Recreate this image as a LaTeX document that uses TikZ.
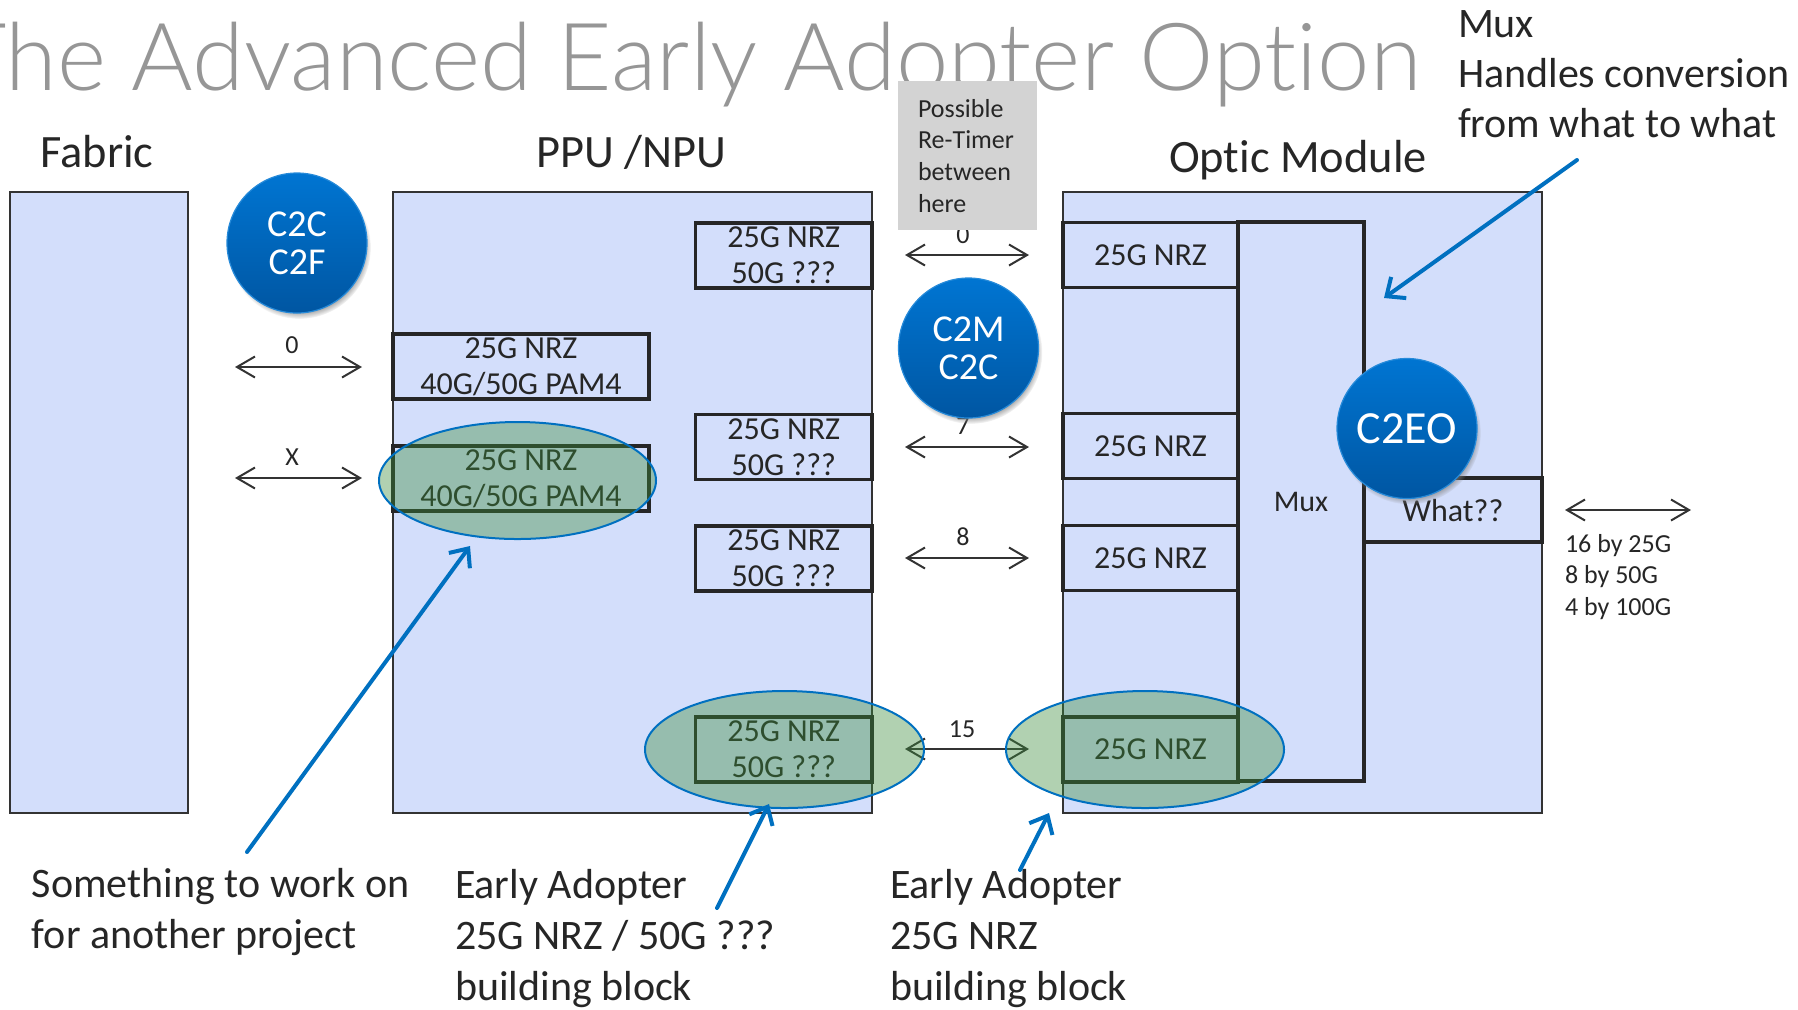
\documentclass[tikz,border=0pt]{standalone}
\usepackage{fontspec}
\setmainfont{Carlito}[Ligatures=NoCommon]
\newfontfamily\titlefont{Lato Light}[Ligatures=NoCommon]
\usetikzlibrary{arrows.meta,shapes.geometric,shadows}

\definecolor{boxfill}{RGB}{211,222,251}
\definecolor{ink}{RGB}{38,38,38}
\definecolor{edge}{RGB}{51,51,51}
\definecolor{ptr}{RGB}{0,112,192}
\definecolor{tgreen}{RGB}{60,140,60}
\definecolor{titlegray}{RGB}{150,150,150}
\definecolor{retimer}{RGB}{211,211,211}
\definecolor{ctop}{RGB}{0,117,210}
\definecolor{cbot}{RGB}{0,86,162}

\newcommand{\fsz}[2]{\fontsize{#1}{#2}\selectfont}
\newcommand{\lines}[1]{\begin{tabular}[t]{@{}l@{}}#1\end{tabular}}

\tikzset{
  every node/.style={inner sep=0pt, outer sep=0pt, text=ink},
  block/.style={draw=edge, line width=1pt, fill=boxfill, rectangle},
  lane/.style={draw=ink, line width=1.9pt, fill=boxfill, rectangle,
               minimum height=32.5pt, align=center, font=\fsz{16}{18}},
  muxcol/.style={draw=ink, line width=1.7pt, fill=boxfill, rectangle},
  header/.style={anchor=base, font=\fsz{23.2}{27}},
  note/.style={anchor=base west, font=\fsz{21}{25.5}},
  small/.style={anchor=base, font=\fsz{13}{15.8}},
  link/.style={draw=edge, line width=1pt,
               {Straight Barb[length=9pt,width=10.5pt]}-{Straight Barb[length=9pt,width=10.5pt]}},
  pointer/.style={draw=ptr, line width=2pt, line cap=round,
               -{Straight Barb[length=7.5pt,width=13pt]}},
  bubble/.style={circle, minimum size=70pt, top color=ctop, bottom color=cbot,
               draw=ctop!85!white, line width=0.6pt,
               circular drop shadow={shadow xshift=1.2pt, shadow yshift=-2.2pt, shadow scale=1.02},
               text=white, align=center},
  spot/.style={ellipse, draw=ptr, line width=1pt, fill=tgreen, fill opacity=0.4,
               minimum height=58.5pt}
}

\begin{document}
\begin{tikzpicture}[x=0.5pt, y=-0.5pt]
\useasboundingbox (0,0) rectangle (1798,1009);

% title
\node[anchor=base east, text=titlegray, font={\titlefont\fsz{47}{56}}] (title) at (1421,90)
  {The Advanced Early Adopter Option};

% column headers
\node[header] (hfab) at (97,167) {Fabric};
\node[header] (hppu) at (631,167) {PPU /NPU};
\node[header] (hopt) at (1298,172) {Optic Module};

% mux note
\node[note, font=\fsz{21}{25}] (muxnote) at (1458,37)
  {\lines{Mux\\Handles conversion\\from what to what}};

% main blocks
\node[block, minimum width=89pt, minimum height=310.5pt] (fabric) at (99,502.5) {};
\node[block, minimum width=239.5pt, minimum height=310.5pt] (ppu) at (632.5,502.5) {};
\node[block, minimum width=239.5pt, minimum height=310.5pt] (optic) at (1302.5,502.5) {};

% PPU lanes
\node[lane, minimum width=128pt] (l1) at (521,366.5) {25G NRZ\\40G/50G PAM4};
\node[lane, minimum width=128pt] (l2) at (521,478.5) {25G NRZ\\40G/50G PAM4};
\node[lane, minimum width=88.25pt] (r1) at (783.75,255.5) {25G NRZ\\50G ???};
\node[lane, minimum width=88.25pt] (r2) at (783.75,447) {25G NRZ\\50G ???};
\node[lane, minimum width=88.25pt] (r3) at (783.75,558.5) {25G NRZ\\50G ???};
\node[lane, minimum width=88.25pt] (r4) at (783.75,749.5) {25G NRZ\\50G ???};

% optic module: mux column, lanes, line side
\node[muxcol, minimum width=63pt, minimum height=279.5pt, font=\fsz{15}{18}] (mux) at (1301,501.5) {Mux};
\node[lane, minimum width=87.5pt] (o1) at (1150.5,255) {25G NRZ};
\node[lane, minimum width=87.5pt] (o2) at (1150.5,446) {25G NRZ};
\node[lane, minimum width=87.5pt] (o3) at (1150.5,558) {25G NRZ};
\node[lane, minimum width=87.5pt] (o4) at (1150.5,749.5) {25G NRZ};
\node[lane, minimum width=89pt, minimum height=32pt] (what) at (1453,510) {What??};

% fabric to PPU links
\coordinate (fa0) at (235,367);  \coordinate (fb0) at (362,367);
\coordinate (fax) at (235,478);  \coordinate (fbx) at (362,478);
\draw[link] (fa0) -- (fb0);
\draw[link] (fax) -- (fbx);
\node[small] (n0) at (292,353) {0};
\node[small] (nx) at (292,465) {X};

% PPU to optic links
\coordinate (ma0) at (905,255);  \coordinate (mb0) at (1029,255);
\coordinate (ma7) at (905,447);  \coordinate (mb7) at (1029,447);
\coordinate (ma8) at (905,558);  \coordinate (mb8) at (1029,558);
\coordinate (ma15) at (905,749); \coordinate (mb15) at (1029,749);
\draw[link] (ma0) -- (mb0);
\draw[link] (ma7) -- (mb7);
\draw[link] (ma8) -- (mb8);
\draw[link] (ma15) -- (mb15);
\node[small] (m0) at (963,243) {0};
\node[small] (m7) at (963,434) {7};
\node[small] (m8) at (963,545) {8};
\node[small] (m15) at (962,737) {15};

% line side
\coordinate (la) at (1565,510); \coordinate (lb) at (1691,510);
\draw[link] (la) -- (lb);
\node[anchor=base west, font=\fsz{13}{15.75}] (rates) at (1565,552)
  {\lines{16 by 25G\\8 by 50G\\4 by 100G}};

% retimer note
\node[rectangle, fill=retimer, minimum width=69.5pt, minimum height=74.5pt] (rt) at (967.5,155.5) {};
\node[anchor=base west, font=\fsz{13}{15.9}] (rttext) at (918,117)
  {\lines{Possible\\Re-Timer\\between\\here}};

% highlighted building blocks
\node[spot, minimum width=138.5pt] (eL) at (517.5,480.5) {};
\node[spot, minimum width=139.5pt] (eM) at (784.5,749.5) {};
\node[spot, minimum width=139pt] (eR) at (1145,749.5) {};

% interface classes
\node[bubble, font=\fsz{19}{19}] (c2c) at (297,243) {C2C\\C2F};
\node[bubble, font=\fsz{19}{19}] (c2m) at (968.5,348) {C2M\\C2C};
\node[bubble, font=\fsz{23}{23}] (c2eo) at (1407,428.5) {C2EO};

% captions
\node[note] (capA) at (32,897) {\lines{Something to work on\\for another project}};
\node[note] (capB) at (455,898) {\lines{Early Adopter\\25G NRZ / 50G ???\\building block}};
\node[note] (capC) at (890,898) {\lines{Early Adopter\\25G NRZ\\building block}};

% pointers
\coordinate (p1s) at (1577,160); \coordinate (p1e) at (1384,298);
\coordinate (p2s) at (247,852);  \coordinate (p2e) at (470,546);
\coordinate (p3s) at (717,908);  \coordinate (p3e) at (769,804);
\coordinate (p4s) at (1020,870); \coordinate (p4e) at (1049,813);
\draw[pointer] (p1s) -- (p1e);
\draw[pointer] (p2s) -- (p2e);
\draw[pointer] (p3s) -- (p3e);
\draw[pointer] (p4s) -- (p4e);
\end{tikzpicture}
\end{document}
